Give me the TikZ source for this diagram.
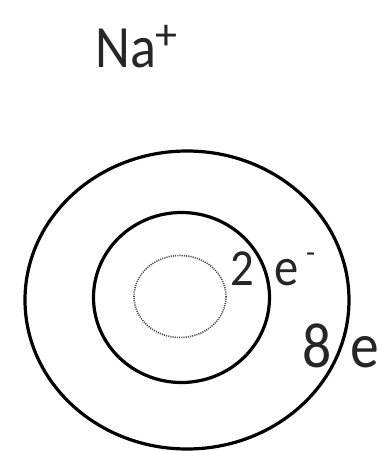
\documentclass[tikz,border=0pt]{standalone}
\usepackage{fontspec}
\setmainfont{Carlito}
\begin{document}
\begin{tikzpicture}[x=1pt,y=-1pt,
  shell/.style={draw=black,line width=3.2pt},
  core/.style={draw=black!70,line width=1.6pt,dash pattern=on 1.1pt off 1.1pt},
  lbl/.style={inner sep=0pt,anchor=base west,text=black!85}]
\useasboundingbox (0,0) rectangle (379,451);
\clip (0,0) rectangle (379,451);
\fill[white] (0,0) rectangle (379,451);
\node[lbl,font=\fontsize{60}{62}\selectfont] (na) at (95,67) {\scalebox{0.9}[1]{Na}};
\node[lbl,font=\fontsize{44}{46}\selectfont] (plus) at (155,49) {+};
\draw[shell] (187,300) ellipse [x radius=162, y radius=149];
\draw[shell] (181.5,297.5) ellipse [x radius=88, y radius=85];
\draw[core] (180,296.5) ellipse [x radius=46, y radius=41];
\node[lbl,font=\fontsize{52}{54}\selectfont] (two) at (230,285) {\scalebox{0.9}[1]{2}};
\node[lbl,font=\fontsize{54}{56}\selectfont] (e1) at (274,285) {\scalebox{0.9}[1]{e}};
\node[lbl,font=\fontsize{30}{32}\selectfont] (minus) at (306,262) {-};
\node[lbl,font=\fontsize{64}{66}\selectfont] (eight) at (302,367) {\scalebox{0.9}[1]{8}};
\node[lbl,font=\fontsize{64}{66}\selectfont] (e2) at (350,367) {\scalebox{0.9}[1]{e}};
\end{tikzpicture}
\end{document}
